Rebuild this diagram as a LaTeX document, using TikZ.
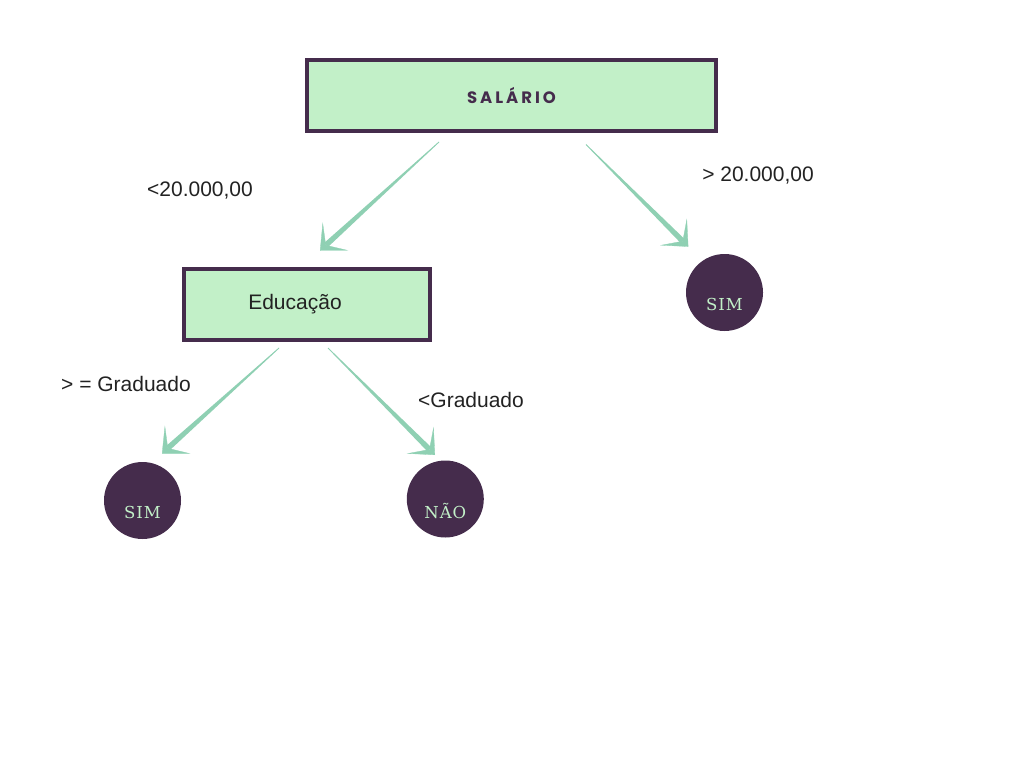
\documentclass[tikz,border=0pt]{standalone}
\usepackage{fontspec}
\setmainfont{Liberation Sans}
\newfontfamily\titlefont[LetterSpace=18]{Poppins}
\newfontfamily\leaffont[LetterSpace=6]{DejaVu Serif}
\usepackage{xcolor}
\definecolor{plum}{HTML}{452C4C}
\definecolor{mint}{HTML}{C2F0C8}
\definecolor{seagreen}{HTML}{8FD0B3}
\definecolor{ink}{HTML}{222222}
\usetikzlibrary{arrows.meta,calc}

\begin{document}
\begin{tikzpicture}[x=1pt,y=-1pt]

\useasboundingbox (0,0) rectangle (1024,768);

\tikzstyle{attr}=[
	rectangle,
	draw=plum,
	line width=4pt,
	fill=mint,
	inner sep=0pt,
	minimum height=71pt
]
\tikzstyle{leaf}=[
	circle,
	fill=plum,
	inner sep=0pt,
	minimum size=77pt
]
\tikzstyle{lbl}=[
	text=mint,
	font=\leaffont\fontsize{16.5}{18}\selectfont
]
\tikzstyle{cond}=[
	anchor=base,
	text=ink,
	font=\fontsize{21}{25}\selectfont
]
\tikzstyle{shaft}=[fill=seagreen]
\tikzstyle{arr}=[draw=seagreen, line width=0.3pt,
	-{Stealth[length=21pt, width=38pt, inset=13pt]}]

\node[attr, minimum width=409pt, text=plum,
	font=\titlefont\bfseries\fontsize{16.5}{18}\selectfont]
	(salario) at (511.5,95.5) {SALÁRIO};
\node[attr, minimum width=246pt, text=ink,
	font=\fontsize{21}{25}\selectfont]
	(educacao) at (307,304.5) {\hspace*{-24pt}\raisebox{-1.5pt}{Educação}};

\node[leaf, label={[lbl, yshift=-12pt]center:SIM}] (sim1) at (724.5,292.5) {};
\node[leaf, label={[lbl, yshift=-12pt]center:SIM}] (sim2) at (142.5,500.5) {};
\node[leaf, label={[lbl, yshift=-12pt]center:NÃO}] (nao) at (445.3,499) {};

\coordinate (s1) at (439,142);
\coordinate (t1) at (320,250.5);
\coordinate (s2) at (586,144.5);
\coordinate (t2) at (688.3,246.7);
\coordinate (s3) at (279,348);
\coordinate (t3) at (162,453.5);
\coordinate (s4) at (328,348);
\coordinate (t4) at (435,455);

\foreach \i in {1,...,4} {
	\coordinate (m\i) at ($(t\i)!8pt!(s\i)$);
	\fill[shaft] ($(s\i)!0.4pt!90:(t\i)$) -- ($(m\i)!2.8pt!-90:(s\i)$)
		-- ($(m\i)!2.8pt!90:(s\i)$) -- ($(s\i)!0.4pt!-90:(t\i)$) -- cycle;
	\draw[arr] (s\i) -- (t\i);
}

\node[cond] (lt20) at (200,196.7) {<20.000,00};
\node[cond] (gt20) at (758,181.7) {> 20.000,00};
\node[cond] (gegrad) at (126,391) {> = Graduado};
\node[cond] (ltgrad) at (471,407.7) {<Graduado};

\end{tikzpicture}
\end{document}
